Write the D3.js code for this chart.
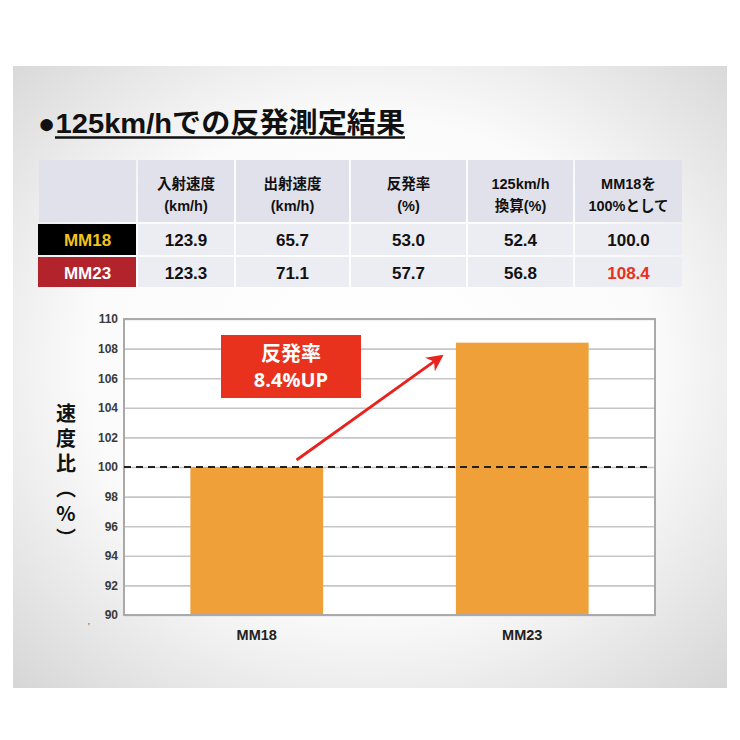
<!DOCTYPE html>
<html>
<head>
<meta charset="utf-8">
<script src="https://cdn.jsdelivr.net/npm/d3@7"></script>
<style>
  body { margin: 0; background: #fff; }
  svg { display: block; }
</style>
</head>
<body>
<svg id="chart" width="740" height="740"></svg>
<script>
// Chart data
const categories = ["MM18", "MM23"];
const speedRatio = [100.0, 108.4];
const yTicks = [90, 92, 94, 96, 98, 100, 102, 104, 106, 108, 110];
const baseline = 100;

// Table data
const headerLine1 = ["入射速度", "出射速度", "反発率", "125km/h", "MM18を"];
const headerLine2 = ["(km/h)", "(km/h)", "(%)", "換算(%)", "100%として"];
const inSpeed = [123.9, 123.3];
const outSpeed = [65.7, 71.1];
const reboundRate = [53.0, 57.7];
const conv125 = [52.4, 56.8];

const titleText = "●125km/hでの反発測定結果";
const yLabel = "速度比（%）";
const noteLines = ["反発率", "8.4%UP"];

const svg = d3.select("#chart");
const jp = "'Liberation Sans', 'Noto Sans CJK JP', sans-serif";

// Panel background
const defs = svg.append("defs");
const grad = defs.append("radialGradient").attr("id", "panelGrad")
    .attr("cx", "50%").attr("cy", "48%").attr("r", "72%");
grad.append("stop").attr("offset", "0%").attr("stop-color", "#ffffff");
grad.append("stop").attr("offset", "55%").attr("stop-color", "#fbfbfb");
grad.append("stop").attr("offset", "100%").attr("stop-color", "#d6d6d6");

svg.append("rect")
    .attr("x", 13).attr("y", 66).attr("width", 714).attr("height", 622)
    .attr("fill", "url(#panelGrad)");

// Title
svg.append("text")
    .attr("x", 38).attr("y", 133)
    .attr("font-family", jp).attr("font-weight", "bold").attr("font-size", 28)
    .attr("textLength", 367).attr("lengthAdjust", "spacingAndGlyphs")
    .attr("fill", "#111")
    .text(titleText);
svg.append("line")
    .attr("x1", 55).attr("x2", 405).attr("y1", 137.5).attr("y2", 137.5)
    .attr("stroke", "#111").attr("stroke-width", 2.5);

// Table
const colEdges = [38, 137, 235, 350, 467, 574, 683];
const rowEdges = [160, 223, 256, 288];
const table = svg.append("g");

const rows = categories.map((c, i) => [inSpeed[i], outSpeed[i], reboundRate[i], conv125[i], speedRatio[i]]);

// header cells
for (let j = 0; j < 6; j++) {
  table.append("rect")
      .attr("x", colEdges[j] + 1).attr("y", rowEdges[0])
      .attr("width", colEdges[j + 1] - colEdges[j] - 2)
      .attr("height", rowEdges[1] - rowEdges[0] - 1)
      .attr("fill", "#e1e1eb");
}
headerLine1.forEach((t, j) => {
  const cx = (colEdges[j + 1] + colEdges[j + 2]) / 2;
  table.append("text").attr("x", cx).attr("y", 189)
      .attr("text-anchor", "middle").attr("font-family", jp)
      .attr("font-weight", "bold").attr("font-size", 14.5).attr("fill", "#111")
      .text(t);
  table.append("text").attr("x", cx).attr("y", 211)
      .attr("text-anchor", "middle").attr("font-family", jp)
      .attr("font-weight", "bold").attr("font-size", 14.5).attr("fill", "#111")
      .text(headerLine2[j]);
});

// body rows
const labelFill = ["#000000", "#b3232b"];
const labelText = ["#f2c31c", "#ffffff"];
rows.forEach((r, i) => {
  const y0 = rowEdges[i + 1] + 1, y1 = rowEdges[i + 2];
  const cy = (y0 + y1) / 2 + 6;
  table.append("rect")
      .attr("x", colEdges[0]).attr("y", y0)
      .attr("width", colEdges[1] - colEdges[0] - 1).attr("height", y1 - y0 - 1)
      .attr("fill", labelFill[i]);
  table.append("text").attr("x", (colEdges[0] + colEdges[1]) / 2).attr("y", cy)
      .attr("text-anchor", "middle").attr("font-family", jp)
      .attr("font-weight", "bold").attr("font-size", 17).attr("fill", labelText[i])
      .text(categories[i]);
  r.forEach((v, j) => {
    table.append("rect")
        .attr("x", colEdges[j + 1] + 1).attr("y", y0)
        .attr("width", colEdges[j + 2] - colEdges[j + 1] - 2).attr("height", y1 - y0 - 1)
        .attr("fill", "#ececf3");
    table.append("text")
        .attr("x", (colEdges[j + 1] + colEdges[j + 2]) / 2).attr("y", cy)
        .attr("text-anchor", "middle").attr("font-family", jp)
        .attr("font-weight", "bold").attr("font-size", 17)
        .attr("fill", (i === 1 && j === 4) ? "#e8301e" : "#111")
        .text(v.toFixed(1));
  });
});

// Bar chart
const plot = { left: 124, right: 655, top: 319, bottom: 615 };
const y = d3.scaleLinear().domain([90, 110]).range([plot.bottom, plot.top]);
const x = d3.scaleBand().domain(categories).range([plot.left, plot.right])
    .paddingInner(0.5).paddingOuter(0.25);

svg.append("rect")
    .attr("x", plot.left).attr("y", plot.top)
    .attr("width", plot.right - plot.left).attr("height", plot.bottom - plot.top)
    .attr("fill", "#ffffff");

const yAxis = svg.append("g")
    .attr("transform", `translate(${plot.left},0)`)
    .call(d3.axisLeft(y).tickValues(yTicks).tickSize(-(plot.right - plot.left)).tickPadding(6));
yAxis.select(".domain").remove();
yAxis.selectAll(".tick line").attr("stroke", "#c6c6c6").attr("stroke-width", 1.6);
yAxis.selectAll(".tick text")
    .attr("font-family", "'Liberation Sans', sans-serif")
    .attr("font-weight", "bold").attr("font-size", 12).attr("fill", "#3a3a3a");

svg.selectAll(".bar")
    .data(categories)
    .join("rect")
    .attr("class", "bar")
    .attr("x", d => x(d))
    .attr("width", x.bandwidth())
    .attr("y", (d, i) => y(speedRatio[i]))
    .attr("height", (d, i) => y(90) - y(speedRatio[i]))
    .attr("fill", "#f0a038");

// plot frame
svg.append("rect")
    .attr("x", plot.left).attr("y", plot.top)
    .attr("width", plot.right - plot.left).attr("height", plot.bottom - plot.top)
    .attr("fill", "none").attr("stroke", "#a9a9a9").attr("stroke-width", 2);

// baseline dashed
svg.append("line")
    .attr("x1", plot.left).attr("x2", plot.right - 4)
    .attr("y1", y(baseline)).attr("y2", y(baseline))
    .attr("stroke", "#222").attr("stroke-width", 2)
    .attr("stroke-dasharray", "7,5");

// x labels
svg.selectAll(".xlab")
    .data(categories)
    .join("text")
    .attr("class", "xlab")
    .attr("x", d => x(d) + x.bandwidth() / 2)
    .attr("y", 640)
    .attr("text-anchor", "middle")
    .attr("font-family", "'Liberation Sans', sans-serif")
    .attr("font-weight", "bold").attr("font-size", 14.5).attr("fill", "#222")
    .text(d => d);

svg.append("text").attr("x", 88).attr("y", 630)
    .attr("font-size", 10).attr("fill", "#555").text("'");

// y label (vertical)
svg.append("text")
    .attr("x", 66).attr("y", 403)
    .attr("font-family", "'Noto Sans CJK JP', sans-serif")
    .attr("font-weight", "bold").attr("font-size", 20).attr("fill", "#111")
    .style("writing-mode", "vertical-rl")
    .style("text-orientation", "upright")
    .attr("letter-spacing", 5)
    .text(yLabel);

// arrow
defs.append("marker").attr("id", "arrowHead")
    .attr("viewBox", "0 0 10 10").attr("refX", 8).attr("refY", 5)
    .attr("markerWidth", 6).attr("markerHeight", 6)
    .attr("markerUnits", "strokeWidth")
    .attr("orient", "auto")
    .append("path").attr("d", "M0,0 L10,5 L0,10 L3,5 Z").attr("fill", "#e8231e");

svg.append("line")
    .attr("x1", x("MM18") + x.bandwidth() * 0.8).attr("y1", y(baseline) - 7)
    .attr("x2", x("MM23") - 15).attr("y2", y(speedRatio[1]) + 14)
    .attr("stroke", "#e8231e").attr("stroke-width", 2.8)
    .attr("marker-end", "url(#arrowHead)");

// annotation box
svg.append("rect")
    .attr("x", 221).attr("y", 335).attr("width", 140).attr("height", 63)
    .attr("fill", "#e8321e");
noteLines.forEach((t, i) => {
  svg.append("text")
      .attr("x", 291).attr("y", 361 + i * 26)
      .attr("text-anchor", "middle")
      .attr("font-family", "'Open Sans', 'Noto Sans CJK JP', sans-serif")
      .attr("font-weight", "bold").attr("font-size", 20).attr("fill", "#ffffff")
      .text(t);
});
</script>
</body>
</html>
